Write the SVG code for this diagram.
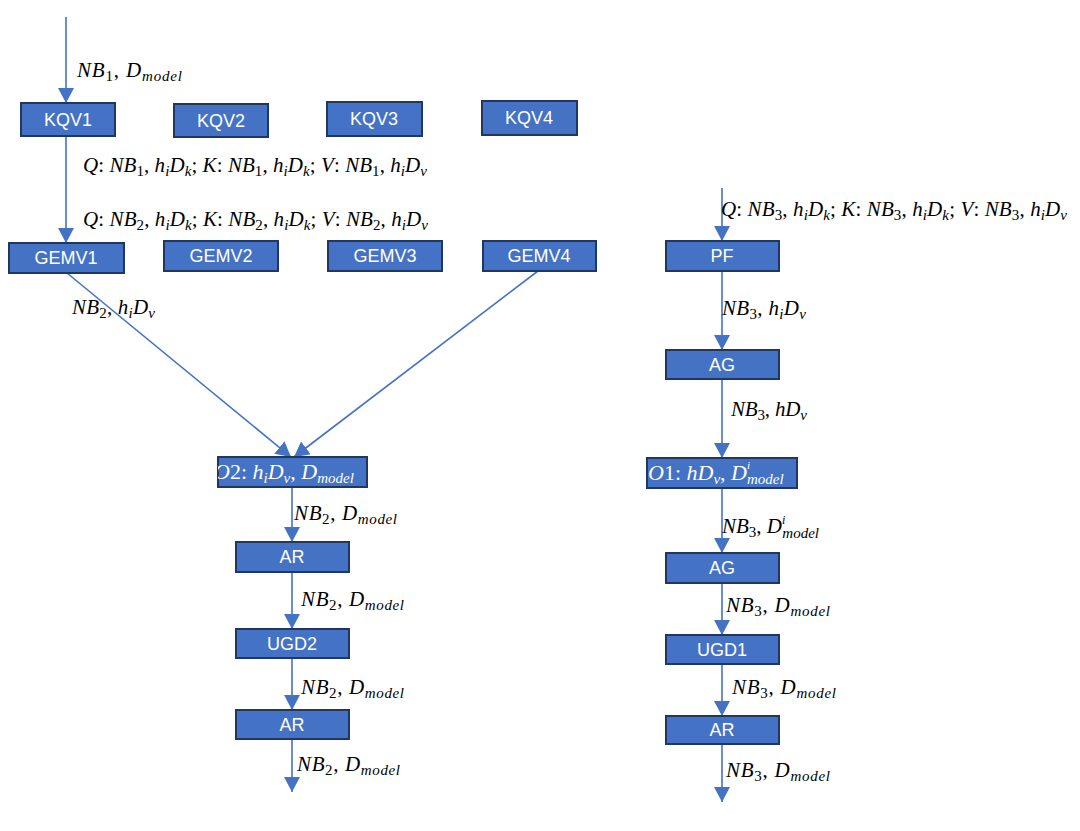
<svg xmlns="http://www.w3.org/2000/svg" width="1080" height="831" viewBox="0 0 1080 831">
<style>
.box{fill:#4472C4;stroke:#22375E;stroke-width:2}
.bt{font-family:"Liberation Sans",Arial,sans-serif;font-size:18px;fill:#fff;text-anchor:middle}
.m{font-family:"Liberation Serif","DejaVu Serif",serif;font-style:italic;font-size:21px;fill:#000}
.mw{font-family:"Liberation Serif","DejaVu Serif",serif;font-style:italic;font-size:22px;fill:#fff}
.u{font-style:normal}
.s{font-size:15px}
.sp{font-size:12px}
.sq{font-size:11px}
.ln{stroke:#4472C4;stroke-width:1.6;fill:none;marker-end:url(#ah)}
</style>
<defs>
<marker id="ah" markerUnits="userSpaceOnUse" markerWidth="16" markerHeight="16" viewBox="0 0 16 16" refX="15" refY="8" orient="auto">
<path d="M0,0 L15,8 L0,16 Z" fill="#4472C4"/>
</marker>
<clipPath id="c2"><rect x="218" y="457" width="149" height="30"/></clipPath>
<clipPath id="c1"><rect x="647" y="458" width="150" height="30"/></clipPath>
</defs>
<rect width="1080" height="831" fill="#fff"/>
<g id="connectors">
<line class="ln" x1="66" y1="17" x2="66" y2="103"/>
<line class="ln" x1="66" y1="136" x2="66" y2="243"/>
<line class="ln" x1="67" y1="273" x2="291" y2="457"/>
<line class="ln" x1="538" y1="271" x2="294" y2="457"/>
<line class="ln" x1="722" y1="188" x2="722" y2="241"/>
<line class="ln" x1="722" y1="271" x2="722" y2="350"/>
<line class="ln" x1="722" y1="379" x2="722" y2="458"/>
<line class="ln" x1="722" y1="488" x2="722" y2="553"/>
<line class="ln" x1="722" y1="583" x2="722" y2="635"/>
<line class="ln" x1="722" y1="664" x2="722" y2="716"/>
<line class="ln" x1="722" y1="744" x2="722" y2="802"/>
<line class="ln" x1="292" y1="487" x2="292" y2="542"/>
<line class="ln" x1="292" y1="572" x2="292" y2="629"/>
<line class="ln" x1="292" y1="658" x2="292" y2="710"/>
<line class="ln" x1="292" y1="739" x2="292" y2="792"/>
</g>
<g id="labels">
<text class="m" x="77" y="77" textLength="105" lengthAdjust="spacing">NB<tspan class="s u" dy="4">1</tspan><tspan class="u" dy="-4">, </tspan>D<tspan class="s" dy="4">model</tspan></text>
<text class="m" x="83" y="172" textLength="344" lengthAdjust="spacing">Q<tspan class="u">: </tspan>NB<tspan class="s u" dy="4">1</tspan><tspan class="u" dy="-4">, </tspan>h<tspan class="s" dy="4">i</tspan><tspan dy="-4">D</tspan><tspan class="s" dy="4">k</tspan><tspan class="u" dy="-4">; </tspan>K<tspan class="u">: </tspan>NB<tspan class="s u" dy="4">1</tspan><tspan class="u" dy="-4">, </tspan>h<tspan class="s" dy="4">i</tspan><tspan dy="-4">D</tspan><tspan class="s" dy="4">k</tspan><tspan class="u" dy="-4">; </tspan>V<tspan class="u">: </tspan>NB<tspan class="s u" dy="4">1</tspan><tspan class="u" dy="-4">, </tspan>h<tspan class="s" dy="4">i</tspan><tspan dy="-4">D</tspan><tspan class="s" dy="4">v</tspan></text>
<text class="m" x="83" y="226" textLength="345" lengthAdjust="spacing">Q<tspan class="u">: </tspan>NB<tspan class="s u" dy="4">2</tspan><tspan class="u" dy="-4">, </tspan>h<tspan class="s" dy="4">i</tspan><tspan dy="-4">D</tspan><tspan class="s" dy="4">k</tspan><tspan class="u" dy="-4">; </tspan>K<tspan class="u">: </tspan>NB<tspan class="s u" dy="4">2</tspan><tspan class="u" dy="-4">, </tspan>h<tspan class="s" dy="4">i</tspan><tspan dy="-4">D</tspan><tspan class="s" dy="4">k</tspan><tspan class="u" dy="-4">; </tspan>V<tspan class="u">: </tspan>NB<tspan class="s u" dy="4">2</tspan><tspan class="u" dy="-4">, </tspan>h<tspan class="s" dy="4">i</tspan><tspan dy="-4">D</tspan><tspan class="s" dy="4">v</tspan></text>
<text class="m" x="721" y="216" textLength="346" lengthAdjust="spacing">Q<tspan class="u">: </tspan>NB<tspan class="s u" dy="4">3</tspan><tspan class="u" dy="-4">, </tspan>h<tspan class="s" dy="4">i</tspan><tspan dy="-4">D</tspan><tspan class="s" dy="4">k</tspan><tspan class="u" dy="-4">; </tspan>K<tspan class="u">: </tspan>NB<tspan class="s u" dy="4">3</tspan><tspan class="u" dy="-4">, </tspan>h<tspan class="s" dy="4">i</tspan><tspan dy="-4">D</tspan><tspan class="s" dy="4">k</tspan><tspan class="u" dy="-4">; </tspan>V<tspan class="u">: </tspan>NB<tspan class="s u" dy="4">3</tspan><tspan class="u" dy="-4">, </tspan>h<tspan class="s" dy="4">i</tspan><tspan dy="-4">D</tspan><tspan class="s" dy="4">v</tspan></text>
<text class="m" x="72" y="314" textLength="83" lengthAdjust="spacing">NB<tspan class="s u" dy="4">2</tspan><tspan class="u" dy="-4">, </tspan>h<tspan class="s" dy="4">i</tspan><tspan dy="-4">D</tspan><tspan class="s" dy="4">v</tspan></text>
<text class="m" x="722" y="315" textLength="84" lengthAdjust="spacing">NB<tspan class="s u" dy="4">3</tspan><tspan class="u" dy="-4">, </tspan>h<tspan class="s" dy="4">i</tspan><tspan dy="-4">D</tspan><tspan class="s" dy="4">v</tspan></text>
<text class="m" x="731" y="416" textLength="76" lengthAdjust="spacing">NB<tspan class="s u" dy="4">3</tspan><tspan class="u" dy="-4">, </tspan>hD<tspan class="s" dy="4">v</tspan></text>
<text class="m" x="294" y="520" textLength="103" lengthAdjust="spacing">NB<tspan class="s u" dy="4">2</tspan><tspan class="u" dy="-4">, </tspan>D<tspan class="s" dy="4">model</tspan></text>
<text class="m" x="301" y="606" textLength="103" lengthAdjust="spacing">NB<tspan class="s u" dy="4">2</tspan><tspan class="u" dy="-4">, </tspan>D<tspan class="s" dy="4">model</tspan></text>
<text class="m" x="301" y="694" textLength="103" lengthAdjust="spacing">NB<tspan class="s u" dy="4">2</tspan><tspan class="u" dy="-4">, </tspan>D<tspan class="s" dy="4">model</tspan></text>
<text class="m" x="297" y="771" textLength="103" lengthAdjust="spacing">NB<tspan class="s u" dy="4">2</tspan><tspan class="u" dy="-4">, </tspan>D<tspan class="s" dy="4">model</tspan></text>
<text class="m" x="722" y="533">NB<tspan class="s u" dy="4">3</tspan><tspan class="u" dy="-4">, </tspan>D<tspan class="sp" dy="-9">i</tspan><tspan class="s" dx="-3" dy="14">model</tspan></text>
<text class="m" x="726" y="612" textLength="104" lengthAdjust="spacing">NB<tspan class="s u" dy="4">3</tspan><tspan class="u" dy="-4">, </tspan>D<tspan class="s" dy="4">model</tspan></text>
<text class="m" x="732" y="694" textLength="104" lengthAdjust="spacing">NB<tspan class="s u" dy="4">3</tspan><tspan class="u" dy="-4">, </tspan>D<tspan class="s" dy="4">model</tspan></text>
<text class="m" x="726" y="777" textLength="104" lengthAdjust="spacing">NB<tspan class="s u" dy="4">3</tspan><tspan class="u" dy="-4">, </tspan>D<tspan class="s" dy="4">model</tspan></text>
</g>
<g id="KQV1"><rect class="box" x="21" y="103" width="94" height="33"/><text class="bt" x="68" y="126">KQV1</text></g>
<g id="KQV2"><rect class="box" x="174" y="104" width="94" height="33"/><text class="bt" x="221" y="127">KQV2</text></g>
<g id="KQV3"><rect class="box" x="327" y="102" width="95" height="34"/><text class="bt" x="374" y="125">KQV3</text></g>
<g id="KQV4"><rect class="box" x="482" y="101" width="95" height="34"/><text class="bt" x="529" y="124">KQV4</text></g>
<g id="GEMV1"><rect class="box" x="9" y="243" width="115" height="30"/><text class="bt" x="66" y="264">GEMV1</text></g>
<g id="GEMV2"><rect class="box" x="164" y="241" width="114" height="30"/><text class="bt" x="221" y="262">GEMV2</text></g>
<g id="GEMV3"><rect class="box" x="328" y="241" width="114" height="30"/><text class="bt" x="385" y="262">GEMV3</text></g>
<g id="GEMV4"><rect class="box" x="483" y="241" width="113" height="30"/><text class="bt" x="539" y="262">GEMV4</text></g>
<g id="PF"><rect class="box" x="666" y="241" width="113" height="30"/><text class="bt" x="722" y="262">PF</text></g>
<g id="AG1"><rect class="box" x="666" y="350" width="113" height="29"/><text class="bt" x="722" y="371">AG</text></g>
<g id="O1"><rect class="box" x="647" y="458" width="150" height="30"/><text class="mw" x="648" y="480" clip-path="url(#c1)">O<tspan class="u">1: </tspan>hD<tspan class="s" dy="4">v</tspan><tspan class="u" dy="-4">, </tspan>D<tspan class="sq" dy="-11">i</tspan><tspan class="s" dx="-3" dy="15">model</tspan></text></g>
<g id="AG2"><rect class="box" x="666" y="553" width="113" height="30"/><text class="bt" x="722" y="574">AG</text></g>
<g id="UGD1"><rect class="box" x="666" y="635" width="113" height="29"/><text class="bt" x="722" y="656">UGD1</text></g>
<g id="AR3"><rect class="box" x="666" y="716" width="113" height="28"/><text class="bt" x="722" y="736">AR</text></g>
<g id="O2"><rect class="box" x="218" y="457" width="149" height="30"/><text class="mw" x="214" y="479" clip-path="url(#c2)">O<tspan class="u">2: </tspan>h<tspan class="s" dy="4">i</tspan><tspan dy="-4">D</tspan><tspan class="s" dy="4">v</tspan><tspan class="u" dy="-4">, </tspan>D<tspan class="s" dy="4">model</tspan></text></g>
<g id="AR1"><rect class="box" x="236" y="542" width="113" height="30"/><text class="bt" x="292" y="563">AR</text></g>
<g id="UGD2"><rect class="box" x="236" y="629" width="113" height="29"/><text class="bt" x="292" y="650">UGD2</text></g>
<g id="AR2"><rect class="box" x="236" y="710" width="113" height="29"/><text class="bt" x="292" y="731">AR</text></g>
</svg>
